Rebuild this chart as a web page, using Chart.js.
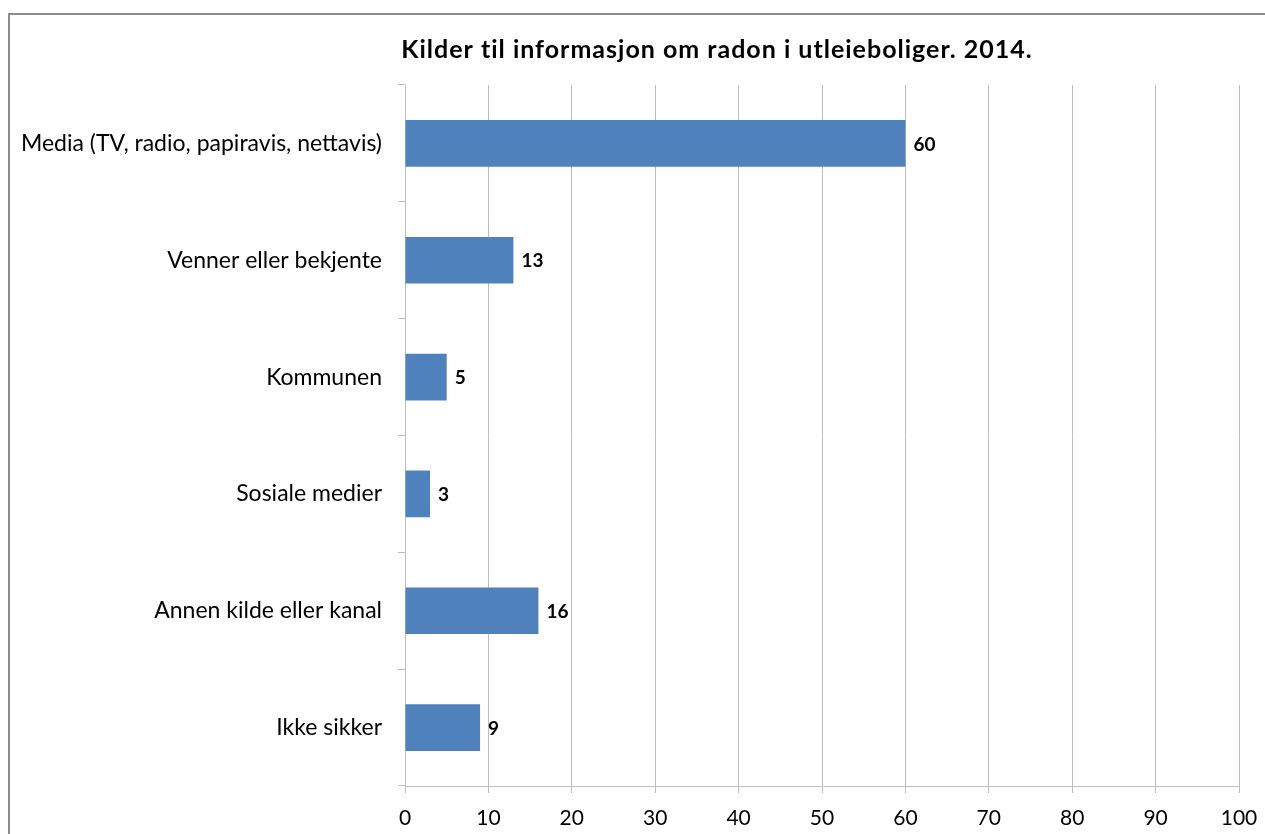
<!DOCTYPE html>
<html>
<head>
<meta charset="utf-8">
<script src="https://cdn.jsdelivr.net/npm/chart.js@4/dist/chart.umd.min.js"></script>
<style>
  html, body { margin: 0; padding: 0; background: #fff; }
  #wrap { position: relative; width: 1265px; height: 834px; }
</style>
</head>
<body>
<div id="wrap"><canvas id="c" width="1265" height="834"></canvas></div>
<script>
const title = 'Kilder til informasjon om radon i utleieboliger. 2014.';
const categories = [
  'Media (TV, radio, papiravis, nettavis)',
  'Venner eller bekjente',
  'Kommunen',
  'Sosiale medier',
  'Annen kilde eller kanal',
  'Ikke sikker'
];
const values = [60, 13, 5, 3, 16, 9];
const xTicks = [0, 10, 20, 30, 40, 50, 60, 70, 80, 90, 100];

const FONT = 'Lato, "Open Sans", sans-serif';
const GRID = '#bdbdbd';

const decor = {
  id: 'decor',
  beforeDraw(chart) {
    const ctx = chart.ctx;
    ctx.save();
    ctx.strokeStyle = '#8c8c8c';
    ctx.lineWidth = 2;
    ctx.strokeRect(9, 14, 1400, 1000);
    ctx.restore();
  },
  afterDraw(chart) {
    const ctx = chart.ctx;
    ctx.save();
    ctx.fillStyle = '#000';
    ctx.font = 'bold 25px ' + FONT;
    ctx.textAlign = 'center';
    ctx.textBaseline = 'middle';
    try { ctx.letterSpacing = '1px'; } catch (e) {}
    ctx.fillText(title, 717, 50);
    try { ctx.letterSpacing = '0px'; } catch (e) {}
    const meta = chart.getDatasetMeta(0);
    ctx.font = 'bold 19px ' + FONT;
    ctx.textAlign = 'left';
    meta.data.forEach((bar, i) => {
      ctx.fillText(String(values[i]), bar.x + 8, bar.y + 1);
    });
    ctx.restore();
  }
};

new Chart(document.getElementById('c'), {
  type: 'bar',
  data: {
    labels: categories,
    datasets: [{
      data: values,
      backgroundColor: '#4f81bd',
      borderWidth: 0,
      categoryPercentage: 0.4,
      barPercentage: 1.0
    }]
  },
  options: {
    indexAxis: 'y',
    responsive: false,
    animation: false,
    devicePixelRatio: 1,
    layout: { padding: { top: 85, right: 26, left: 0, bottom: 0 } },
    plugins: { legend: { display: false }, tooltip: { enabled: false }, title: { display: false } },
    scales: {
      x: {
        min: 0, max: 100,
        afterBuildTicks(scale) { scale.ticks = xTicks.map(v => ({ value: v })); },
        afterFit(scale) { scale.height = 48; scale.paddingLeft = 0; scale.paddingRight = 0; },
        ticks: { color: '#000', font: { family: FONT, size: 21 }, padding: 13, maxRotation: 0 },
        grid: { color: GRID, lineWidth: 1, tickLength: 7, drawOnChartArea: true },
        border: { color: GRID, width: 1 }
      },
      y: {
        afterFit(scale) { scale.width = 405; },
        ticks: { color: '#000', font: { family: FONT, size: 23 }, padding: 16 },
        grid: { offset: true, drawOnChartArea: false, color: GRID, tickLength: 7 },
        border: { color: GRID, width: 1 }
      }
    }
  },
  plugins: [decor]
});
</script>
</body>
</html>
